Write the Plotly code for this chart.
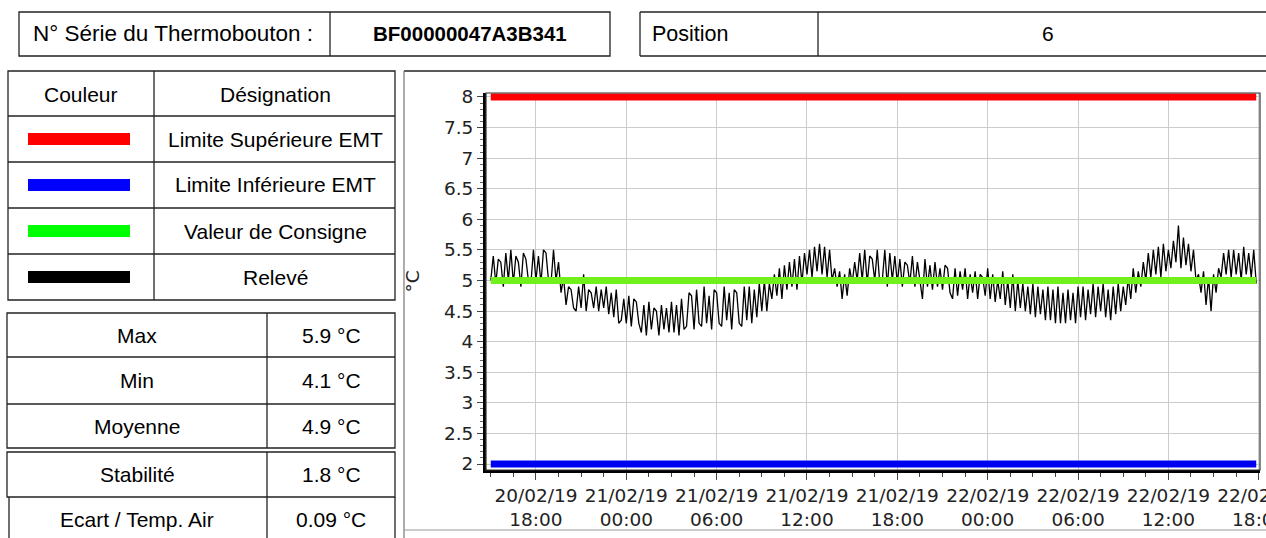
import plotly.graph_objects as go
import pandas as pd

W, H = 1266, 538

# ---------------- text content ----------------
serial_label = "N° Série du Thermobouton :"
serial_value = "BF00000047A3B341"
position_label = "Position"
position_value = "6"

legend_header = ["Couleur", "Désignation"]
legend_names = ["Limite Supérieure EMT", "Limite Inférieure EMT", "Valeur de Consigne", "Relevé"]
legend_colors = ["#ff0000", "#0000ff", "#00ff00", "#000000"]

stats_labels = ["Max", "Min", "Moyenne", "Stabilité", "Ecart / Temp. Air"]
stats_values = ["5.9 °C", "4.1 °C", "4.9 °C", "1.8 °C", "0.09 °C"]

y_title = "°C"

# ---------------- data ----------------
limite_sup = 8
limite_inf = 2
consigne = 5

releve_start = "2019-02-20 15:00"
releve_step = "10min"
releve = [
    # 20/02 15h .. 23h
    5.0, 5.4, 4.95, 5.35, 5.3, 4.9,
    5.45, 5.0, 5.5, 4.95, 5.4, 5.3,
    4.9, 5.45, 5.35, 5.0, 4.95, 5.5,
    5.0, 5.4, 4.95, 5.5, 5.45, 5.0,
    4.95, 5.5, 5.0, 5.3, 4.8, 5.05,
    4.6, 4.9, 4.85, 4.55, 4.5, 4.9,
    4.55, 5.1, 4.5, 4.85, 4.8, 4.55,
    4.9, 4.5, 4.85, 4.55, 4.9, 4.45,
    4.8, 4.4, 4.85, 4.3, 4.35, 4.7,
    # 21/02 00h .. 23h
    4.3, 4.75, 4.25, 4.7, 4.65, 4.3,
    4.15, 4.6, 4.1, 4.65, 4.2, 4.55,
    4.5, 4.1, 4.6, 4.2, 4.55, 4.15,
    4.65, 4.15, 4.6, 4.1, 4.7, 4.2,
    4.25, 4.8, 4.75, 4.2, 4.85, 4.3,
    4.25, 4.9, 4.3, 4.75, 4.2, 4.85,
    4.8, 4.3, 4.25, 4.9, 4.35, 4.8,
    4.2, 4.85, 4.8, 4.3, 4.25, 4.9,
    4.35, 4.9, 4.3, 4.85, 4.4, 4.95,
    4.5, 5.0, 4.5, 4.95, 4.7, 5.1,
    4.75, 5.2, 4.7, 5.25, 4.85, 5.3,
    4.9, 5.35, 4.85, 5.4, 4.95, 5.45,
    5.1, 5.5, 5.05, 5.55, 5.15, 5.6,
    5.1, 5.55, 5.05, 5.5, 5.0, 5.2,
    4.9, 5.15, 4.7, 5.1, 4.75, 5.2,
    4.95, 5.3, 5.0, 5.45, 5.0, 5.5,
    4.95, 5.4, 5.35, 5.0, 5.5, 4.95,
    5.0, 5.5, 4.9, 5.45, 5.0, 5.4,
    4.95, 5.35, 4.9, 5.3, 5.25, 4.95,
    5.4, 4.9, 5.3, 4.95, 4.7, 5.35,
    4.9, 5.25, 4.85, 5.3, 4.9, 5.2,
    4.85, 5.25, 5.2, 4.8, 4.7, 5.2,
    4.75, 5.15, 4.85, 5.2, 4.7, 5.1,
    4.8, 5.15, 4.7, 5.1, 5.05, 4.75,
    # 22/02 00h .. 17h
    5.2, 4.7, 5.1, 4.65, 5.0, 4.7,
    5.15, 4.6, 5.0, 4.55, 5.1, 4.5,
    5.0, 4.55, 4.95, 4.5, 4.9, 4.45,
    4.95, 4.4, 4.9, 4.45, 4.85, 4.35,
    4.9, 4.35, 4.85, 4.3, 4.9, 4.3,
    4.8, 4.3, 4.85, 4.35, 4.8, 4.3,
    4.9, 4.4, 4.9, 4.35, 4.85, 4.45,
    4.95, 4.4, 4.9, 4.5, 4.95, 4.4,
    4.85, 4.35, 4.9, 4.45, 4.95, 4.5,
    4.9, 4.6, 5.05, 4.7, 5.2, 4.8,
    5.15, 4.9, 5.3, 5.0, 5.45, 5.05,
    5.5, 5.1, 5.55, 5.05, 5.6, 5.15,
    5.5, 5.2, 5.65, 5.3, 5.9, 5.2,
    5.7, 5.25, 5.6, 5.15, 5.5, 5.0,
    5.1, 4.8, 5.15, 4.6, 5.05, 4.5,
    5.1, 4.8, 5.2, 5.05, 5.45, 5.1,
    5.5, 5.05, 5.5, 5.1, 5.45, 5.0,
    5.55, 5.1, 5.45, 5.05, 5.5, 4.95,
]

x_range = ["2019-02-20 14:41", "2019-02-22 18:05"]
y_range = [1.902, 8.065]

times = pd.date_range(releve_start, periods=len(releve), freq=releve_step)
t_ends = [times[0], times[-1]]


def px(x):
    return x / W


def py(y):
    return 1 - y / H


fig = go.Figure()

fig.add_trace(go.Scatter(x=times, y=releve, mode="lines",
                         line=dict(color="#000000", width=1.3), name=legend_names[3]))
fig.add_trace(go.Scatter(x=t_ends, y=[consigne, consigne], mode="lines",
                         line=dict(color="#72f01c", width=7), name=legend_names[2]))
fig.add_trace(go.Scatter(x=t_ends, y=[limite_sup, limite_sup], mode="lines",
                         line=dict(color="#ff0000", width=7), name=legend_names[0]))
fig.add_trace(go.Scatter(x=t_ends, y=[limite_inf, limite_inf], mode="lines",
                         line=dict(color="#0000f0", width=7), name=legend_names[1]))

shapes = []


def line(x0, y0, x1, y1, color="#222222", width=1.3):
    shapes.append(dict(type="line", xref="paper", yref="paper",
                       x0=px(x0), y0=py(y0), x1=px(x1), y1=py(y1),
                       line=dict(color=color, width=width), layer="above"))


def rect(x0, y0, x1, y1, color="#222222", width=1.3):
    shapes.append(dict(type="rect", xref="paper", yref="paper",
                       x0=px(x0), y0=py(y0), x1=px(x1), y1=py(y1),
                       line=dict(color=color, width=width),
                       fillcolor="rgba(0,0,0,0)", layer="above"))


# top tables
rect(19, 12, 610, 56)
line(330, 12, 330, 56)
line(640, 12, 1266, 12)
line(640, 56, 1266, 56)
line(640, 12, 640, 56)
line(818, 12, 818, 56)

# legend table
rect(8, 71, 395, 300)
for yy in [116, 162, 208, 254]:
    line(8, yy, 395, yy)
line(154, 71, 154, 300)
row_c = [139, 185, 231, 277]
for c, yc in zip(legend_colors, row_c):
    shapes.append(dict(type="rect", xref="paper", yref="paper",
                       x0=px(28), x1=px(130), y0=py(yc + 6), y1=py(yc - 6),
                       line=dict(width=0), fillcolor=c, layer="above"))

# stats tables
rect(7, 313, 395, 448)
line(7, 357, 395, 357)
line(7, 404, 395, 404)
line(267, 313, 267, 448)
rect(7, 452, 395, 497)
line(267, 452, 267, 540)
line(9, 497, 9, 540)
line(395, 497, 395, 540)

# chart outer box
line(404, 71, 1266, 71, color="#222222", width=1.5)
line(404, 71, 404, 540, color="#777777", width=1.2)
line(404, 530, 1266, 530, color="#999999", width=1.2)

# plot frame
shapes.append(dict(type="rect", xref="x domain", yref="y domain", x0=0, x1=1, y0=0, y1=1,
                   line=dict(color="#333333", width=1.2), layer="above"))

annotations = []
FAM = "Liberation Sans, Arial, sans-serif"
tf = dict(family=FAM, size=21, color="#000000")
tf_big = dict(family=FAM, size=22.5, color="#000000")
tf_pos = dict(family=FAM, size=21.5, color="#000000")
tfb = dict(family=FAM, size=20.5, color="#000000", weight="bold")


def text(s, x, y, anchor="center", font=tf):
    annotations.append(dict(text=s, xref="paper", yref="paper", x=px(x), y=py(y),
                            xanchor=anchor, yanchor="middle", showarrow=False, font=font))


text(serial_label, 31, 34, "left", tf_big)
text(serial_value, 470, 34, "center", tfb)
text(position_label, 650, 34, "left", tf_pos)
text(position_value, 1048, 34)

text(legend_header[0], 81, 94)
text(legend_header[1], 275, 94)
for name, yc in zip(legend_names, row_c):
    text(name, 275, yc)

stat_c = [335, 380.5, 426, 474.5, 519]
for lab, val, yc in zip(stats_labels, stats_values, stat_c):
    text(lab, 137, yc)
    text(val, 331, yc)

axfont = dict(family="DejaVu Sans, Verdana, sans-serif", size=18.5, color="#222222")

fig.update_layout(
    width=W, height=H,
    margin=dict(l=0, r=0, t=0, b=0),
    paper_bgcolor="white", plot_bgcolor="white",
    showlegend=False,
    shapes=shapes, annotations=annotations,
    xaxis=dict(
        type="date", domain=[px(486), px(1260)], range=x_range,
        dtick=6 * 3600 * 1000, tick0="2019-02-20 00:00",
        tickformat="%d/%m/%y<br>%H:%M", tickfont=axfont,
        ticks="outside", ticklen=7, tickcolor="#444444", tickwidth=1,
        showgrid=True, gridcolor="#cccccc", gridwidth=1,
        showline=True, linecolor="#000000", linewidth=3,
        zeroline=False, ticklabeloverflow="allow", automargin=False,
        minor=dict(dtick=1.5 * 3600 * 1000, tick0="2019-02-20 18:00",
                   ticks="outside", ticklen=4, tickcolor="#444444", showgrid=False),
    ),
    yaxis=dict(
        domain=[py(470), py(93)], range=y_range,
        dtick=0.5, tick0=2, tickfont=axfont,
        ticks="outside", ticklen=6, tickcolor="#444444", tickwidth=1,
        showgrid=True, gridcolor="#cccccc", gridwidth=1,
        showline=True, linecolor="#000000", linewidth=3,
        zeroline=False, automargin=False,
        title=dict(text=y_title, font=axfont, standoff=20),
        minor=dict(dtick=0.1, ticks="outside", ticklen=3, tickcolor="#666666", showgrid=False),
    ),
)

fig.write_html("out.html", config={"displayModeBar": False},
               post_script="document.body.style.margin='0';document.body.style.overflow='hidden';")
